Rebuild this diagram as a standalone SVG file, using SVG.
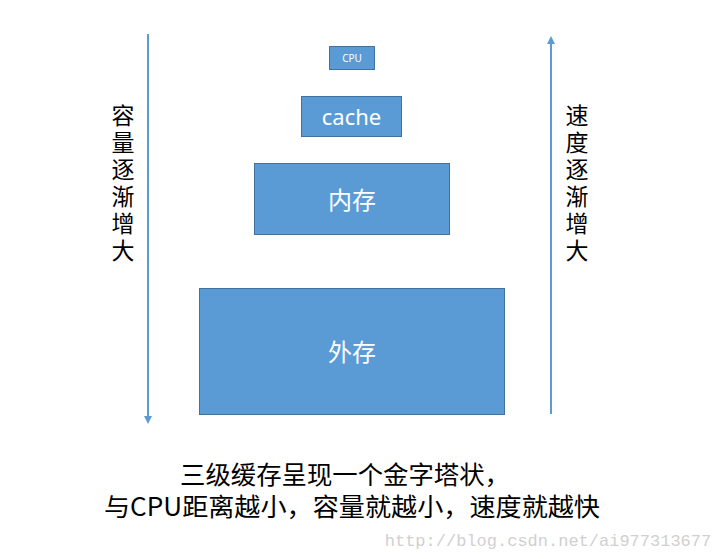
<svg xmlns="http://www.w3.org/2000/svg" width="720" height="559" viewBox="0 0 720 559">
<style>
.box{fill:#5b9bd5;stroke:#41719c;stroke-width:1}
.bt{fill:#fff;font-family:"Noto Sans","Noto Sans CJK SC",sans-serif;text-anchor:middle}
.ln{stroke:#5b9bd5;stroke-width:2;fill:none}
.v{font-family:"Noto Sans CJK SC",sans-serif;font-size:23px;fill:#000;text-anchor:middle}
.cap{font-family:"Noto Sans CJK SC",sans-serif;font-size:25px;fill:#000}
</style>
<defs><marker id="ah" markerWidth="8" markerHeight="8" refX="4" refY="4" orient="auto" markerUnits="userSpaceOnUse"><path d="M0,0L8,4L0,8z" fill="#5b9bd5"/></marker></defs>
<rect width="720" height="559" fill="#fff"/>
<g id="connectors">
<line class="ln" x1="148" y1="34" x2="148" y2="420" marker-end="url(#ah)"/>
<line class="ln" x1="551" y1="414" x2="551" y2="40" marker-end="url(#ah)"/>
</g>
<g id="cpu"><rect class="box" x="329.500" y="46.500" width="45" height="23"/><text class="bt" x="352" y="61.500" font-size="10">CPU</text></g>
<g id="cache"><rect class="box" x="301.500" y="96.500" width="100" height="40"/><text class="bt" x="351.500" y="125" font-size="22">cache</text></g>
<g id="mem"><rect class="box" x="254.500" y="163.500" width="195" height="71"/><text class="bt" x="352" y="209" font-size="24">内存</text></g>
<g id="disk"><rect class="box" x="199.500" y="288.500" width="305" height="126"/><text class="bt" x="352" y="361" font-size="24">外存</text></g>
<g id="left"><text class="v"><tspan x="123" y="124">容</tspan><tspan x="123" y="151">量</tspan><tspan x="123" y="178">逐</tspan><tspan x="123" y="205">渐</tspan><tspan x="123" y="232">增</tspan><tspan x="123" y="259">大</tspan></text></g>
<g id="right"><text class="v"><tspan x="577" y="124">速</tspan><tspan x="577" y="151">度</tspan><tspan x="577" y="178">逐</tspan><tspan x="577" y="205">渐</tspan><tspan x="577" y="232">增</tspan><tspan x="577" y="259">大</tspan></text></g>
<g id="caption"><text class="cap" x="180" y="484" textLength="330" lengthAdjust="spacingAndGlyphs">三级缓存呈现一个金字塔状，</text><text class="cap" x="104" y="516" textLength="496" lengthAdjust="spacingAndGlyphs">与CPU距离越小，容量就越小，速度就越快</text></g>
<text x="548" y="546" font-family="Liberation Mono,monospace" font-size="17" fill="#d0d0d0" text-anchor="middle">http://blog.csdn.net/ai977313677</text>
</svg>
